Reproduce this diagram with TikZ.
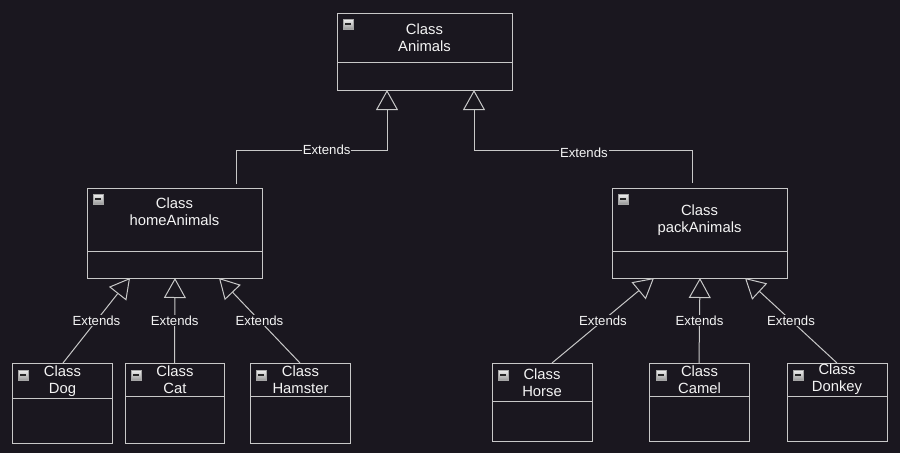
\documentclass[tikz,border=0pt]{standalone}
\usepackage{fontspec}
\setmainfont{Liberation Sans}
\usetikzlibrary{arrows.meta,calc}
\definecolor{bgc}{HTML}{1A171F}
\definecolor{lnc}{HTML}{C8C8C8}
\definecolor{txc}{HTML}{F4F4F4}
\newcommand\umlclass[6]{%
  \pgfmathsetlengthmacro\umlw{(#4-#2)*1pt}%
  \pgfmathsetlengthmacro\umlh{(#5-#3)*1pt}%
  \node[clsbox, minimum width=\umlw, minimum height=\umlh, anchor=north west] (#1) at (#2,#3) {};
  \draw[boxline] (#2,#6) -- (#4,#6);
}
\tikzset{
  clsbox/.style={draw=lnc, line width=1pt, inner sep=0pt, outer sep=0pt},
  boxline/.style={draw=lnc, line width=1pt},
  clstext/.style={text=txc, align=center, font=\fontsize{14.8}{17}\selectfont, inner sep=0pt},
  icon/.style={draw=gray!70!white, top color=white!90!gray, bottom color=gray!80!white, minimum size=10pt, inner sep=0pt, line width=0.6pt, text=black!85},
  conn/.style={draw=lnc, line width=1pt, -{Triangle[length=20pt,width=22pt,fill=bgc,line width=1pt]}},
  lbl/.style={fill=bgc, text=txc, font=\fontsize{13.2}{15}\selectfont, inner sep=1pt},
}
\begin{document}
\begin{tikzpicture}[x=1pt,y=-1pt]
\fill[bgc] (0,0) rectangle (900,453);
\useasboundingbox (0,0) rectangle (900,453);

% classes
\umlclass{animals}{337}{13}{512}{90}{62}
\umlclass{home}{87}{188}{262}{278}{251}
\umlclass{pack}{612}{188}{787}{278}{251}
\umlclass{dog}{12}{363}{112}{443}{398}
\umlclass{cat}{125}{363}{224}{443}{396}
\umlclass{hamster}{250}{363}{350}{443}{396}
\umlclass{horse}{492}{363}{592}{441}{401}
\umlclass{camel}{649}{363}{749}{441}{396}
\umlclass{donkey}{787}{363}{887}{441}{396}

% texts
\node[clstext] (animalsT) at (424.5,38) {Class\\Animals};
\node[clstext] (homeT) at (174.5,211.5) {Class\\homeAnimals};
\node[clstext] (packT) at (699.5,220) {Class\\packAnimals};
\node[clstext] (dogT) at (62.5,381.5) {Class\\Dog};
\node[clstext] (catT) at (175,379.5) {Class\\Cat};
\node[clstext] (hamsterT) at (300.5,379.5) {Class\\Hamster};
\node[clstext] (horseT) at (542,382.5) {Class\\Horse};
\node[clstext] (camelT) at (699.5,379.5) {Class\\Camel};
\node[clstext] (donkeyT) at (837,379.5) {Class\\Donkey};

% icons
\node[icon] (animalsI) at (348,24) {\rule{6pt}{1.6pt}};
\node[icon] (homeI) at (98,199) {\rule{6pt}{1.6pt}};
\node[icon] (packI) at (623,199) {\rule{6pt}{1.6pt}};
\node[icon] (dogI) at (23,375) {\rule{6pt}{1.6pt}};
\node[icon] (catI) at (136,375) {\rule{6pt}{1.6pt}};
\node[icon] (hamsterI) at (261,375) {\rule{6pt}{1.6pt}};
\node[icon] (horseI) at (503,375) {\rule{6pt}{1.6pt}};
\node[icon] (camelI) at (661,375) {\rule{6pt}{1.6pt}};
\node[icon] (donkeyI) at (798,375) {\rule{6pt}{1.6pt}};

% top connectors
\draw[conn] ([xshift=61.5pt,yshift=4pt]home.north) -- ++(0,-34)
  -| node[lbl,pos=0.3] {Extends} ([xshift=50pt]animals.south west);
\draw[conn] ([xshift=-7.5pt,yshift=5pt]pack.north) -- ++(0,-33)
  -| node[lbl,pos=0.248,yshift=-3pt] {Extends} ([xshift=137pt]animals.south west);

% bottom connectors
\draw[conn] ([xshift=1pt]dog.north) -- node[lbl] {Extends} ([xshift=43pt]home.south west);
\draw[conn] (cat.north) -- node[lbl] {Extends} ([xshift=88pt]home.south west);
\draw[conn] (hamster.north) -- node[lbl] {Extends} ([xshift=132pt]home.south west);
\draw[conn] ([xshift=10pt]horse.north) -- node[lbl] {Extends} ([xshift=42pt]pack.south west);
\draw[conn] (camel.north) -- node[lbl] {Extends} ([xshift=88pt]pack.south west);
\draw[conn] (donkey.north) -- node[lbl] {Extends} ([xshift=133pt]pack.south west);
\end{tikzpicture}
\end{document}
